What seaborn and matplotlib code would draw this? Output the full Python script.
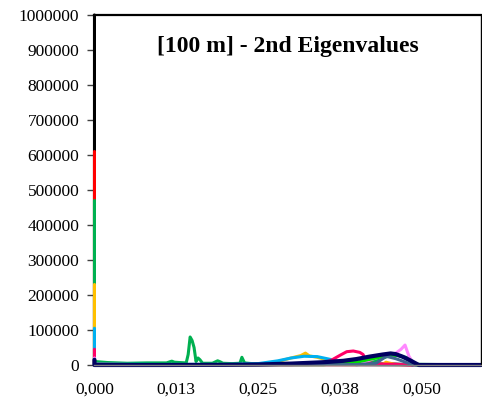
import numpy as np
import pandas as pd
import matplotlib
matplotlib.use("Agg")
import matplotlib.pyplot as plt
from matplotlib.ticker import FuncFormatter, FixedLocator
from decimal import Decimal, ROUND_HALF_UP
import seaborn as sns

title = "[100 m] - 2nd Eigenvalues"
x_ticks = [0.0, 0.0125, 0.025, 0.0375, 0.05]
y_ticks = [0, 100000, 200000, 300000, 400000, 500000, 600000, 700000, 800000, 900000, 1000000]

black_x = [0, 0, 0.01, 0.03, 0.045, 0.05, 0.059]
black_y = [1000000, 2000, 1000, 1000, 3000, 0, 0]

red_x = [0, 0, 0.01, 0.03, 0.059]
red_y = [610000, 3000, 1000, 1000, 0]

green_x = [0, 0, 0.002, 0.005, 0.008, 0.011, 0.0118, 0.0122, 0.013, 0.0140, 0.0143,
           0.0146, 0.0149, 0.0152, 0.0155, 0.0158, 0.0161, 0.0165, 0.018, 0.0188, 0.0192,
           0.0196, 0.021, 0.0222, 0.0225, 0.0229, 0.024, 0.026, 0.03, 0.035, 0.04, 0.043,
           0.0455, 0.048, 0.049, 0.059]
green_y = [470000, 10000, 7000, 5000, 6000, 6000, 11000, 8000, 7000, 6000, 30000,
           80000, 70000, 50000, 10000, 20000, 15000, 5000, 5000, 12000, 9000,
           5000, 4000, 5000, 22000, 6000, 4000, 3000, 3000, 3000, 5000, 12000,
           30000, 20000, 2000, 0]

yellow_x = [0, 0, 0.01, 0.025, 0.028, 0.030, 0.0315, 0.0322, 0.0328, 0.034, 0.036,
            0.038, 0.044, 0.0445, 0.046, 0.059]
yellow_y = [230000, 2000, 1000, 2000, 10000, 20000, 27000, 34000, 26000, 22000, 12000,
            4000, 2000, 8000, 1000, 0]

cyan_x = [0, 0, 0.01, 0.02, 0.025, 0.028, 0.030, 0.032, 0.034, 0.036, 0.038, 0.040, 0.059]
cyan_y = [105000, 3000, 1500, 2000, 4000, 12000, 20000, 25000, 24000, 16000, 6000, 1000, 0]

crimson_x = [0, 0, 0.01, 0.03, 0.034, 0.036, 0.0375, 0.0385, 0.0395, 0.0405, 0.041,
             0.0415, 0.043, 0.046, 0.048, 0.059]
crimson_y = [45000, 2000, 1000, 1000, 4000, 12000, 28000, 38000, 40000, 36000, 30000,
             8000, 3000, 2000, 0, 0]

violet_x = [0, 0, 0.03, 0.038, 0.041, 0.043, 0.045, 0.046, 0.0468, 0.0474, 0.048, 0.0488, 0.059]
violet_y = [20000, 1000, 500, 2000, 8000, 20000, 30000, 34000, 45000, 57000, 25000, 0, 0]

lime_x = [0, 0, 0.035, 0.04, 0.043, 0.045, 0.0465, 0.048, 0.049, 0.059]
lime_y = [15000, 1000, 1000, 8000, 20000, 28000, 27000, 15000, 0, 0]

steel_x = [0, 0, 0.04, 0.043, 0.0445, 0.046, 0.0475, 0.0485, 0.059]
steel_y = [10000, 1000, 1000, 5000, 25000, 18000, 8000, 0, 0]

navy_x = [0, 0, 0.01, 0.02, 0.025, 0.03, 0.035, 0.038, 0.040, 0.042, 0.044, 0.0452,
          0.046, 0.047, 0.048, 0.0495, 0.059]
navy_y = [15000, 0, 0, 500, 1500, 4000, 8000, 12000, 17000, 24000, 30000, 33000,
          31000, 24000, 15000, 0, 0]

series = [
    ("black", black_x, black_y, "#000000", 2.2),
    ("red", red_x, red_y, "#FF0000", 2.2),
    ("green", green_x, green_y, "#00B050", 2.2),
    ("yellow", yellow_x, yellow_y, "#FFC000", 2.2),
    ("cyan", cyan_x, cyan_y, "#00B0F0", 2.2),
    ("crimson", crimson_x, crimson_y, "#FF0066", 2.2),
    ("violet", violet_x, violet_y, "#FF88FF", 2.2),
    ("lime", lime_x, lime_y, "#00E000", 2.2),
    ("steel", steel_x, steel_y, "#3F6590", 2.2),
    ("navy", navy_x, navy_y, "#000060", 3.0),
]

sns.set_style("white")
plt.rcParams['font.family'] = ['Liberation Serif', 'DejaVu Serif']
plt.rcParams['text.color'] = 'black'
plt.rcParams['xtick.color'] = 'black'
plt.rcParams['ytick.color'] = 'black'

fig = plt.figure(figsize=(4.82, 4.0), dpi=100)
ax = fig.add_axes([0.196, 0.0875, 0.802, 0.875])

for name, xs, ys, col, lw in series:
    df = pd.DataFrame({"x": xs, "y": ys})
    sns.lineplot(data=df, x="x", y="y", ax=ax, color=col, linewidth=lw,
                 sort=False, estimator=None, clip_on=False)


def fmt_x(v, p):
    d = Decimal(str(round(v, 6))).quantize(Decimal("0.001"), rounding=ROUND_HALF_UP)
    return f"{d}".replace(".", ",")


ax.set_xlim(0, 0.059)
ax.set_ylim(0, 1000000)
ax.xaxis.set_major_locator(FixedLocator(x_ticks))
ax.yaxis.set_major_locator(FixedLocator(y_ticks))
ax.xaxis.set_major_formatter(FuncFormatter(fmt_x))
ax.yaxis.set_major_formatter(FuncFormatter(lambda v, p: f"{int(round(v))}"))
ax.set_xlabel("")
ax.set_ylabel("")
ax.tick_params(axis="y", which="major", left=True, length=5, width=1, color="#404040",
               labelcolor="black", labelsize=12.5, pad=6)
ax.tick_params(axis="x", which="major", bottom=False, length=0, labelcolor="black",
               labelsize=12.5, pad=12)
for s in ax.spines.values():
    s.set_color("black")
    s.set_linewidth(1.0)
ax.spines["top"].set_linewidth(1.6)
ax.spines["bottom"].set_color("#808080")
ax.spines["left"].set_zorder(0)

ax.text(0.5, 0.91, title, transform=ax.transAxes, ha="center", va="center",
        fontsize=17, fontweight="bold", color="black")

fig.savefig("out.png", dpi=100)
